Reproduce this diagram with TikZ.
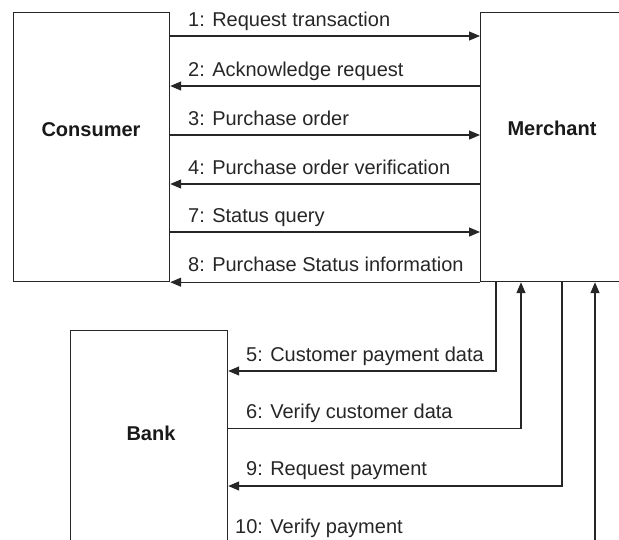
\documentclass[tikz,border=0pt]{standalone}
\usepackage{fontspec}
\setmainfont{Liberation Sans}
\usetikzlibrary{arrows.meta}
\begin{document}
\begin{tikzpicture}[x=1pt,y=-1pt,
  party/.style={draw=black!85,line width=1.2pt,fill=white,inner sep=0pt,anchor=north west},
  partyname/.style={font=\fontsize{20}{24}\selectfont\bfseries,inner sep=0pt,text=black!90},
  msg/.style={font=\fontsize{20}{24}\selectfont,inner sep=0pt,anchor=base west,text=black!85},
  flow/.style={draw=black!85,line width=1.2pt,-{Triangle[length=11pt,width=9pt]}},
  plain/.style={draw=black!85,line width=1.2pt}]
\useasboundingbox (0,0) rectangle (619,539);
\begin{scope}
\clip (0,0) rectangle (619,539);
% the three parties
\node[party,minimum width=156pt,minimum height=269pt] (cons) at (13,12) {};
\node[party,minimum width=144pt,minimum height=269pt] (merch) at (480,12) {};
\node[party,minimum width=157pt,minimum height=280pt] (bank) at (70,330) {};
\node[partyname] (consl) at (91,130) {Consumer};
\node[partyname] (merchl) at (552,128) {Merchant};
\node[partyname] (bankl) at (151,433) {Bank};

% consumer <-> merchant messages
\draw[flow] (cons.east |- 0,36)  -- (merch.west |- 0,36);
\draw[flow] (merch.west |- 0,86) -- (cons.east |- 0,86);
\draw[flow] (cons.east |- 0,135) -- (merch.west |- 0,135);
\draw[flow] (merch.west |- 0,184) -- (cons.east |- 0,184);
\draw[flow] (cons.east |- 0,232) -- (merch.west |- 0,232);
\draw[flow] (merch.south west) -- (cons.south east);

\node[msg] (m1) at (188,26.5)  {1: Request transaction};
\node[msg] (m2) at (188,76)  {2: Acknowledge request};
\node[msg] (m3) at (188,125) {3: Purchase order};
\node[msg] (m4) at (188,174) {4: Purchase order verification};
\node[msg] (m7) at (188,222) {7: Status query};
\node[msg] (m8) at (188,271) {8: Purchase Status information};

% merchant <-> bank messages
\draw[flow] (merch.south -| 496,0) |- (bank.east |- 0,371);
\draw[flow] (bank.east |- 0,428.5) -| (merch.south -| 521,0);
\draw[flow] (merch.south -| 562,0) |- (bank.east |- 0,486);
\coordinate (v10) at (595,560);
\draw[flow] (v10) -- (merch.south -| v10);

\node[msg] (m5)  at (246,361) {5: Customer payment data};
\node[msg] (m6)  at (246,418) {6: Verify customer data};
\node[msg] (m9)  at (246,475.5) {9: Request payment};
\node[msg] (m10) at (235,533) {10: Verify payment};
\end{scope}
\end{tikzpicture}
\end{document}
